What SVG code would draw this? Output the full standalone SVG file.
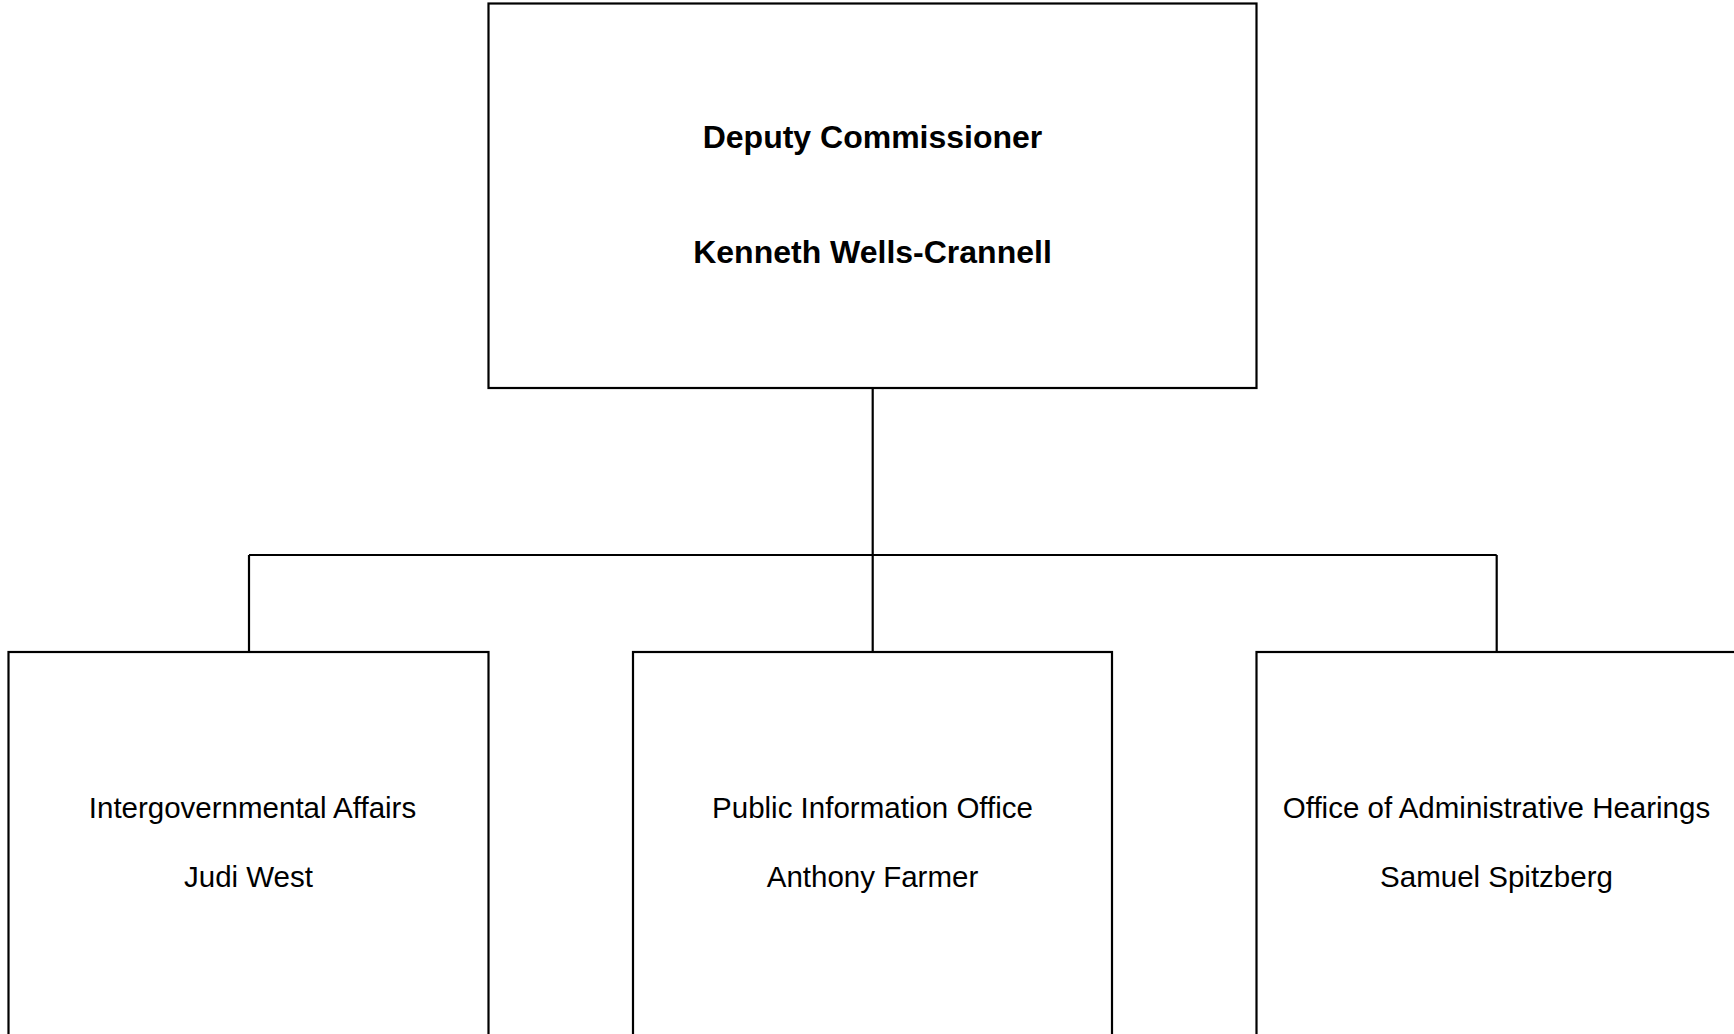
<svg xmlns="http://www.w3.org/2000/svg" width="1734" height="1034" viewBox="0 0 1734 1034">
<style>
.box{fill:#ffffff;stroke:#000000;stroke-width:2.2}
.conn{fill:none;stroke:#000000;stroke-width:2.2}
.t{font-family:"Liberation Sans",Arial,sans-serif;text-anchor:middle;fill:#000000}
.tb{font-size:32px;font-weight:bold}
.tn{font-size:29.5px}
</style>
<rect width="1734" height="1034" fill="#ffffff"/>
<g id="connectors">
<path class="conn" d="M872.7 388 V555"/>
<path class="conn" d="M249 555 H1496.7"/>
<path class="conn" d="M249 555 V652"/>
<path class="conn" d="M872.7 555 V652"/>
<path class="conn" d="M1496.7 555 V652"/>
</g>
<g id="deputy-commissioner">
<rect class="box" x="488.5" y="3.5" width="768" height="384.5"/>
<text class="t tb" x="872.5" y="148">Deputy Commissioner</text>
<text class="t tb" x="872.5" y="263">Kenneth Wells-Crannell</text>
</g>
<g id="intergovernmental-affairs">
<rect class="box" x="8.5" y="652" width="480" height="400"/>
<text class="t tn" x="252.5" y="818">Intergovernmental Affairs</text>
<text class="t tn" x="248.5" y="887">Judi West</text>
</g>
<g id="public-information-office">
<rect class="box" x="633" y="652" width="479" height="400"/>
<text class="t tn" x="872.5" y="818">Public Information Office</text>
<text class="t tn" x="872.5" y="887">Anthony Farmer</text>
</g>
<g id="administrative-hearings">
<rect class="box" x="1256.5" y="652" width="480" height="400"/>
<text class="t tn" x="1496.5" y="818">Office of Administrative Hearings</text>
<text class="t tn" x="1496.5" y="887">Samuel Spitzberg</text>
</g>
</svg>
